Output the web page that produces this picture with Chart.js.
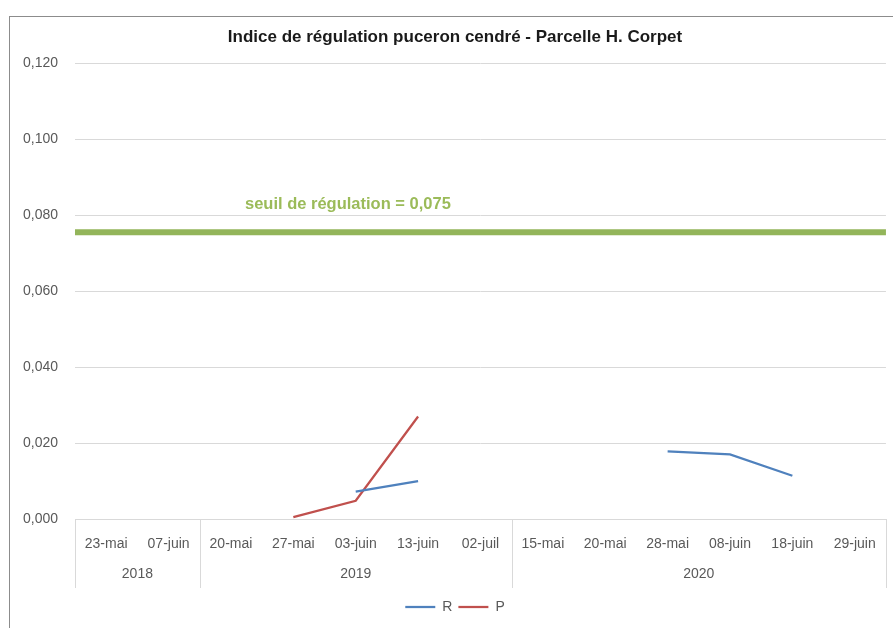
<!DOCTYPE html>
<html>
<head>
<meta charset="utf-8">
<script src="https://cdn.jsdelivr.net/npm/chart.js@4"></script>
<style>
  html, body { margin: 0; padding: 0; background: #fff; }
  #wrap { width: 893px; height: 628px; position: relative; }
</style>
</head>
<body>
<div id="wrap"><canvas id="c"></canvas></div>
<script>
// ---- data ----
const dateLabels = ["23-mai","07-juin","20-mai","27-mai","03-juin","13-juin","02-juil","15-mai","20-mai","28-mai","08-juin","18-juin","29-juin"];
const years = ["2018","2019","2020"];
const yearSizes = [2, 5, 6];
const seriesR = [null, null, null, null, 0.0072, 0.0100, null, null, null, 0.0178, 0.0170, 0.0114, null];
const seriesP = [null, null, null, 0.0005, 0.0048, 0.0270, null, null, null, null, null, null, null];
const threshold = 0.0755;
const thresholdText = "seuil de régulation = 0,075";
const titleText = "Indice de régulation puceron cendré - Parcelle H. Corpet";

const GRID = "#d9d9d9";
const TXT = "#595959";
const FONT = "'Liberation Sans', Arial, sans-serif";

const framePlugin = {
  id: 'frame',
  beforeDraw(chart) {
    const ctx = chart.ctx;
    ctx.save();
    ctx.fillStyle = '#fff';
    ctx.fillRect(0, 0, chart.width, chart.height);
    ctx.strokeStyle = '#8c8c8c';
    ctx.lineWidth = 1;
    ctx.strokeRect(9.5, 16.5, chart.width + 10, chart.height + 10);
    ctx.restore();
  }
};

const thresholdPlugin = {
  id: 'threshold',
  beforeDatasetsDraw(chart) {
    const ctx = chart.ctx, a = chart.chartArea, y = chart.scales.y.getPixelForValue(threshold);
    ctx.save();
    ctx.strokeStyle = '#93b55a';
    ctx.lineWidth = 6;
    ctx.beginPath();
    ctx.moveTo(a.left, y);
    ctx.lineTo(a.right, y);
    ctx.stroke();
    ctx.fillStyle = '#9bbb59';
    ctx.font = "bold 16.5px " + FONT;
    ctx.textAlign = 'left';
    ctx.textBaseline = 'middle';
    ctx.fillText(thresholdText, a.left + 170, y - 28);
    ctx.restore();
  }
};

const groupPlugin = {
  id: 'groups',
  afterDraw(chart) {
    const ctx = chart.ctx, x = chart.scales.x, a = chart.chartArea;
    const step = x.getPixelForValue(1) - x.getPixelForValue(0);
    ctx.save();
    ctx.strokeStyle = GRID;
    ctx.lineWidth = 1;
    ctx.fillStyle = TXT;
    ctx.font = "14px " + FONT;
    ctx.textAlign = 'center';
    ctx.textBaseline = 'middle';
    let idx = 0;
    const edges = [];
    for (let g = 0; g < yearSizes.length; g++) {
      const l = x.getPixelForValue(idx) - step / 2;
      const r = x.getPixelForValue(idx + yearSizes[g] - 1) + step / 2;
      edges.push(l); if (g === yearSizes.length - 1) edges.push(r);
      ctx.fillText(years[g], (l + r) / 2, a.bottom + 55);
      idx += yearSizes[g];
    }
    edges.forEach(e => {
      const ex = Math.round(e) + 0.5;
      ctx.beginPath();
      ctx.moveTo(ex, a.bottom);
      ctx.lineTo(ex, a.bottom + 69);
      ctx.stroke();
    });
    ctx.restore();
  }
};

new Chart(document.getElementById('c'), {
  type: 'line',
  data: {
    labels: dateLabels,
    datasets: [
      { label: 'R', data: seriesR, borderColor: '#4f81bd', backgroundColor: '#4f81bd', borderWidth: 2.25, pointRadius: 0, spanGaps: false, tension: 0 },
      { label: 'P', data: seriesP, borderColor: '#c0504d', backgroundColor: '#c0504d', borderWidth: 2.25, pointRadius: 0, spanGaps: false, tension: 0 }
    ]
  },
  options: {
    responsive: true,
    maintainAspectRatio: false,
    animation: false,
    devicePixelRatio: 1,
    layout: { padding: { left: 23, right: 6, top: 0, bottom: 4 } },
    plugins: {
      title: {
        display: true,
        text: titleText,
        color: '#1a1a1a',
        font: { family: FONT, size: 17, weight: 'bold' },
        padding: { top: 27, bottom: 16 }
      },
      legend: {
        display: true,
        position: 'bottom',
        labels: {
          color: TXT,
          font: { family: FONT, size: 14 },
          usePointStyle: true,
          pointStyle: 'line',
          pointStyleWidth: 30,
          boxHeight: 2,
          padding: 6
        }
      },
      tooltip: { enabled: false }
    },
    scales: {
      x: {
        type: 'category',
        offset: true,
        grid: { display: false, drawTicks: false },
        border: { display: true, color: GRID },
        ticks: { color: TXT, font: { family: FONT, size: 14 }, padding: 17, maxRotation: 0, autoSkip: false },
        afterFit(s) { s.height = 75; }
      },
      y: {
        min: 0, max: 0.12,
        grid: { color: GRID, drawTicks: false },
        border: { display: false },
        ticks: {
          stepSize: 0.02,
          color: TXT,
          font: { family: FONT, size: 14 },
          padding: 17,
          callback: v => v.toFixed(3).replace('.', ',')
        },
        afterFit(s) { s.width = 52; }
      }
    }
  },
  plugins: [framePlugin, thresholdPlugin, groupPlugin]
});
</script>
</body>
</html>
